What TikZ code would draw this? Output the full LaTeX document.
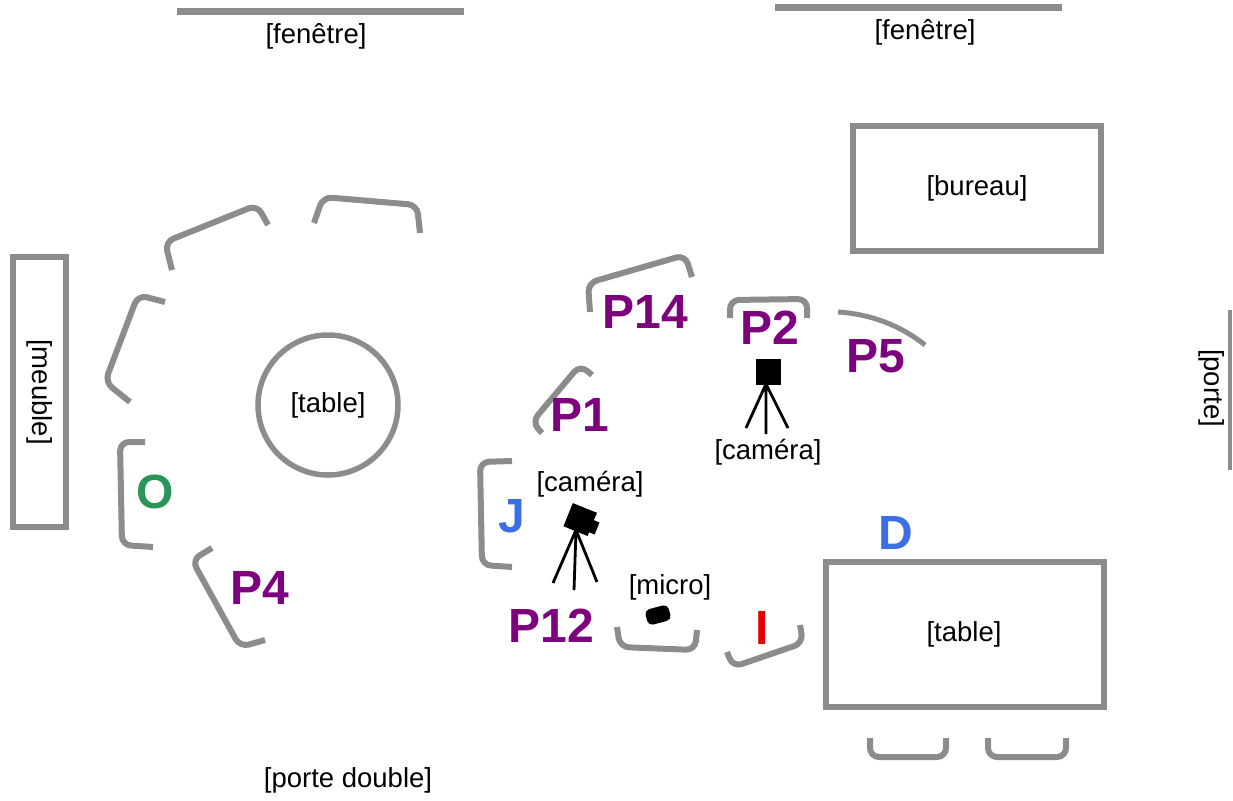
\documentclass[tikz,border=0pt]{standalone}
\usepackage{fontspec}
\setmainfont{Liberation Sans}
\usetikzlibrary{positioning}
\definecolor{mur}{RGB}{140,140,140}
\definecolor{pviolet}{RGB}{125,0,125}
\definecolor{pbleu}{RGB}{60,110,230}
\definecolor{pvert}{RGB}{40,150,90}
\definecolor{prouge}{RGB}{230,0,0}

\begin{document}
\begin{tikzpicture}[x=1pt,y=-1pt,inner sep=0pt,
   mobilier/.style={draw=mur,line width=5.5pt},
   chaise/.style={draw=mur,line width=6pt,rounded corners=9pt},
   lbl/.style={font=\fontsize{27.5}{29}\selectfont},
   pers/.style={font=\fontsize{48}{50}\selectfont\bfseries,text=pviolet},
   pied/.style={line width=2.8pt}]
   \useasboundingbox (0,0) rectangle (1233,800);
   % murs, fenetres, portes
   \draw[mur,line width=7pt] (177,12) -- (464,12);
   \node[lbl] (fen1) at (316,36) {[fenêtre]};
   \draw[mur,line width=7pt] (775,8) -- (1062,8);
   \node[lbl] (fen2) at (925,32) {[fenêtre]};
   \draw[mur,line width=4pt] (1230,310) -- (1230,470);
   \node[lbl,rotate=-90] (porte) at (1212,388) {[porte]};
   \node[lbl] (pdouble) at (348,780) {[porte double]};
   % meubles
   \draw[mobilier] (13,257) rectangle (66,527);
   \node[lbl,rotate=-90] (meuble) at (40,392) {[meuble]};
   \draw[mobilier] (853,126) rectangle (1101,251);
   \node[lbl] (bureau) at (977,188) {[bureau]};
   \draw[mobilier] (328,405) circle (70);
   \node[lbl] (rtable) at (328,405) {[table]};
   \draw[mobilier] (826,562) rectangle (1104,707);
   \node[lbl] (table) at (964,634) {[table]};
   % chaises
   \draw[chaise] (172,270) -- (165,242) -- (257,205) -- (268,225);
   \draw[chaise] (314,223) -- (323,197) -- (417,205) -- (420,233);
   \draw[chaise] (165,302) -- (138,295) -- (105,382) -- (130,402);
   \draw[chaise] (145,442) -- (120,442) -- (122,545) -- (153,547);
   \draw[chaise] (212,548) -- (192,560) -- (240,647) -- (265,640);
   \draw[chaise] (590,312) -- (588,283) -- (685,255) -- (692,277);
   \draw[chaise] (730,318) -- (730,300) -- (807,299) -- (807,318);
   \draw[mur,line width=5pt] (838,312) .. controls (870,314) and (900,325) .. (925,345);
   \draw[chaise] (542,433) -- (532,422) -- (580,365) -- (592,375);
   \draw[chaise] (512,461) -- (480,462) -- (482,565) -- (512,567);
   \draw[chaise] (617,627) -- (620,647) -- (695,650) -- (697,630);
   \draw[chaise] (727,652) -- (733,667) -- (803,643) -- (800,625);
   \draw[chaise] (870,738) -- (870,757) -- (946,757) -- (946,738);
   \draw[chaise] (988,738) -- (988,757) -- (1066,757) -- (1066,738);
   % personnes
   \node[pers] (p14) at (645,312) {P14};
   \node[pers] (p2) at (770,328) {P2};
   \node[pers] (p5) at (876,356) {P5};
   \node[pers] (p1) at (580,415) {P1};
   \node[pers] (p12) at (551,626) {P12};
   \node[pers] (p4) at (260,588) {P4};
   \node[pers,text=pbleu] (j) at (512,516) {J};
   \node[pers,text=pbleu] (d) at (896,533) {D};
   \node[pers,text=prouge] (i) at (762,628) {I};
   \node[pers,text=pvert] (o) at (155,492) {O};
   % cameras et micro
   \fill (756,359) rectangle (781,385);
   \draw[pied] (766,384) -- (746,428) (766,384) -- (766,434) (766,384) -- (788,428);
   \node[lbl] (cam2) at (768,452) {[caméra]};
   \fill[rotate around={-22:(580,520)}] (567,507) rectangle (593,532)
        (592,515) rectangle (599,528);
   \draw[pied] (576,530) -- (553,583) (576,530) -- (574,590) (576,530) -- (597,582);
   \node[lbl] (cam1) at (590,484) {[caméra]};
   \fill[rounded corners=5pt,rotate around={15:(658,615)}] (646,607) rectangle (670,623);
   \node[lbl] (micro) at (670,587) {[micro]};
\end{tikzpicture}
\end{document}
